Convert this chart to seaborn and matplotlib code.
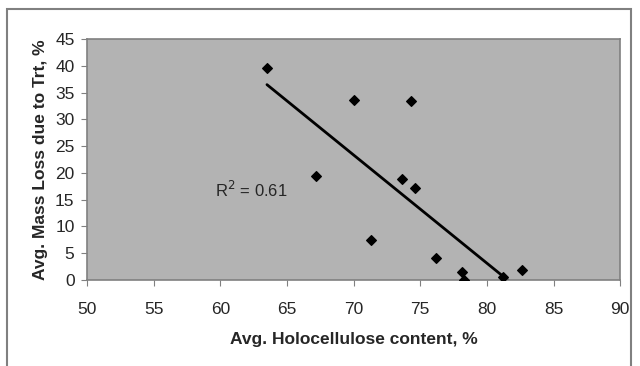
import matplotlib
matplotlib.use("Agg")
import matplotlib.pyplot as plt
import seaborn as sns
import pandas as pd
from matplotlib.patches import Rectangle

holocellulose = [63.5, 67.2, 70.0, 74.3, 71.3, 73.6, 74.6, 76.2, 78.1, 78.3, 81.2, 82.6]
mass_loss = [39.7, 19.4, 33.6, 33.4, 7.4, 18.8, 17.1, 4.2, 1.5, 0.0, 0.5, 1.8]
r2_label = "R$^2$ = 0.61"

df = pd.DataFrame({"holo": holocellulose, "loss": mass_loss})

sns.set_style("white")
plt.rcParams["font.family"] = ["Liberation Sans", "DejaVu Sans"]

fig = plt.figure(figsize=(6.4, 3.66), dpi=100)
ax = fig.add_axes([0.136, 0.235, 0.833, 0.658])
ax.set_facecolor("#b3b3b3")

sns.regplot(data=df, x="holo", y="loss", ax=ax, ci=None, truncate=True,
            marker="D", scatter_kws={"s": 24, "color": "black", "edgecolor": "black",
                                     "alpha": 1, "zorder": 3},
            line_kws={"color": "black", "lw": 2})

ax.set_xlim(50, 90)
ax.set_ylim(0, 45)
ax.set_xticks(range(50, 91, 5))
ax.set_yticks(range(0, 46, 5))
ax.tick_params(direction="out", length=4, width=0.8, color="#808080",
               labelsize=12.5, left=True, bottom=True)
ax.tick_params(axis="x", pad=12)
ax.tick_params(axis="y", pad=5)
for s in ax.spines.values():
    s.set_color("#808080")
    s.set_linewidth(1.2)

ax.set_xlabel("Avg. Holocellulose content, %", fontsize=12.5, fontweight="bold", labelpad=11)
ax.set_ylabel("Avg. Mass Loss due to Trt, %", fontsize=12.5, fontweight="bold", labelpad=5)
ax.text(59.6, 16.8, r2_label, fontsize=12, va="center", ha="left")

fig.patches.append(Rectangle((0.011, -0.05), 0.975, 1.025, transform=fig.transFigure,
                             fill=False, edgecolor="#808080", lw=1.5))

fig.savefig("out.png", dpi=100)
